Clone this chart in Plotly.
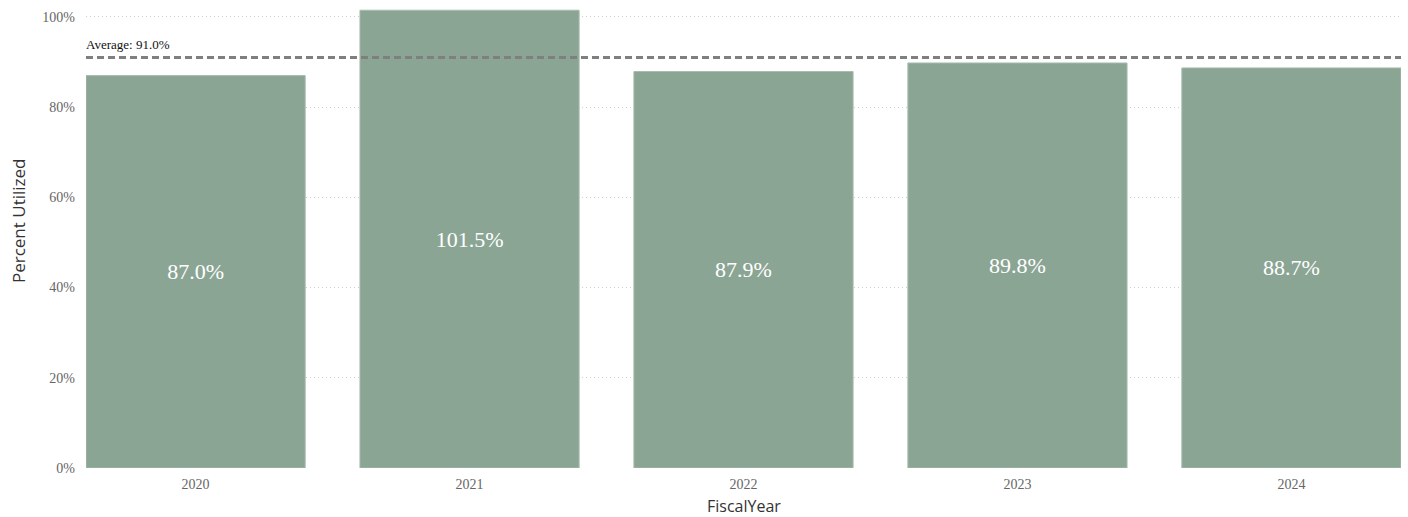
import plotly.graph_objects as go

years = ["2020", "2021", "2022", "2023", "2024"]
utilization = [0.870, 1.015, 0.879, 0.898, 0.887]
average = 0.910
y_ticks = [0, 0.2, 0.4, 0.6, 0.8, 1.0]
y_tick_labels = ["0%", "20%", "40%", "60%", "80%", "100%"]

serif = "Liberation Serif, Times New Roman, serif"
sans = "Open Sans, Noto Sans, sans-serif"

fig = go.Figure()
fig.add_trace(go.Bar(
    x=years,
    y=utilization,
    width=0.8,
    marker=dict(color="#8ba595", line=dict(color="#a7bbad", width=1)),
    text=[f"{v*100:.1f}%" for v in utilization],
    textposition="inside",
    insidetextanchor="middle",
    textfont=dict(family=serif, size=22, color="white"),
    hoverinfo="x+y",
))

fig.add_shape(type="line", xref="paper", x0=0, x1=1, yref="y", y0=average, y1=average,
              line=dict(color="#7f7f7f", width=3, dash="7px,4px"), layer="above")
fig.add_annotation(xref="paper", x=0, yref="y", y=average, text=f"Average: {average*100:.1f}%",
                   showarrow=False, xanchor="left", yanchor="bottom", yshift=4, xshift=-2,
                   font=dict(family=serif, size=13, color="#111"))

# axis titles
fig.add_annotation(xref="paper", yref="paper", x=0.5, y=-0.0828, text="FiscalYear",
                   showarrow=False, xanchor="center", yanchor="middle",
                   font=dict(family=sans, size=16, color="#333"))
fig.add_annotation(xref="paper", yref="paper", x=-0.0517, y=0.538, text="Percent Utilized",
                   showarrow=False, xanchor="center", yanchor="middle", textangle=-90,
                   font=dict(family=sans, size=17, color="#333"))

fig.update_layout(
    width=1408, height=517,
    margin=dict(l=86, r=7, t=9, b=49),
    plot_bgcolor="white", paper_bgcolor="white",
    showlegend=False,
    bargap=0.2,
    xaxis=dict(
        type="category", range=[-0.4, 4.4],
        tickfont=dict(family=serif, size=14, color="#666666"),
        ticklabelstandoff=6,
        showgrid=False, showline=False, ticks="",
    ),
    yaxis=dict(
        range=[0, 1.0177],
        tickvals=y_ticks, ticktext=y_tick_labels,
        tickfont=dict(family=serif, size=14, color="#666666"),
        ticklabelstandoff=10,
        showgrid=True, gridcolor="#cfcfcf", griddash="1px,3px", gridwidth=1,
        zeroline=False, showline=False, ticks="",
    ),
)

fig.write_html("out.html", config={"displayModeBar": False},
               post_script="document.body.style.margin='0';document.body.style.overflow='hidden';")
